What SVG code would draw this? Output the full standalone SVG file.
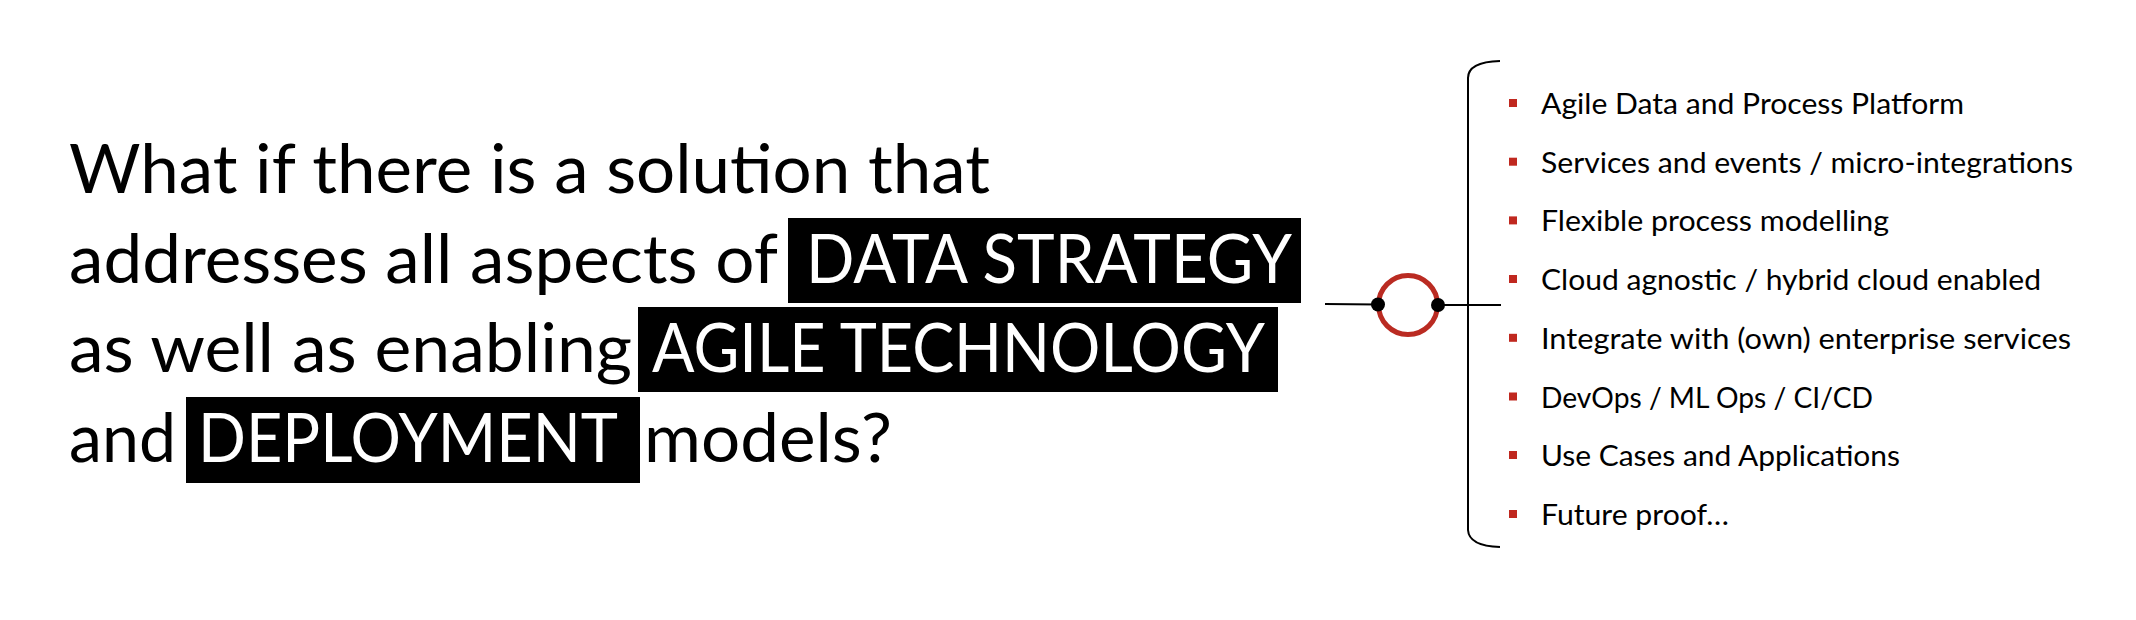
<svg xmlns="http://www.w3.org/2000/svg" width="2136" height="620" viewBox="0 0 2136 620">
<style>
.q{font-family:Lato,"Open Sans","Liberation Sans",sans-serif;font-size:67px;fill:#000}
.qh{font-family:Lato,"Open Sans","Liberation Sans",sans-serif;font-size:67px;fill:#fff}
.hl{fill:#000}
.li{font-family:Lato,"Open Sans","Liberation Sans",sans-serif;font-size:29px;fill:#000}
.bul{fill:#C0281F}
.ln{stroke:#000;stroke-width:2;fill:none}
</style>
<rect width="2136" height="620" fill="#fff"/>
<g id="question">
<rect class="hl" x="788" y="218" width="513" height="85"/>
<rect class="hl" x="638" y="307" width="640" height="85"/>
<rect class="hl" x="186" y="397" width="454" height="86"/>
<text class="q" x="69" y="193" textLength="921" lengthAdjust="spacingAndGlyphs">What if there is a solution that</text>
<text class="q" x="69" y="283" textLength="709" lengthAdjust="spacingAndGlyphs">addresses all aspects of</text>
<text class="qh" x="806" y="283" textLength="486" lengthAdjust="spacingAndGlyphs">DATA STRATEGY</text>
<text class="q" x="69" y="372" textLength="563" lengthAdjust="spacingAndGlyphs">as well as enabling</text>
<text class="qh" x="652" y="372" textLength="613" lengthAdjust="spacingAndGlyphs">AGILE TECHNOLOGY</text>
<text class="q" x="69" y="462" textLength="107" lengthAdjust="spacingAndGlyphs">and</text>
<text class="qh" x="198" y="462" textLength="420" lengthAdjust="spacingAndGlyphs">DEPLOYMENT</text>
<text class="q" x="644" y="462" textLength="248" lengthAdjust="spacingAndGlyphs">models?</text>
</g>
<g id="connectors">
<line class="ln" x1="1325" y1="304" x2="1378" y2="304.5"/>
<line class="ln" x1="1438" y1="305" x2="1501" y2="305"/>
</g>
<g id="interface">
<circle cx="1408" cy="305" r="29.5" fill="none" stroke="#BA2B22" stroke-width="5"/>
<circle cx="1378" cy="304.5" r="7" fill="#000"/>
<circle cx="1438" cy="305" r="7" fill="#000"/>
</g>
<g id="bracket">
<path class="ln" d="M1500,61 Q1468,62 1468,78 L1468,530 Q1469,546 1500,547"/>
</g>
<g id="features">
<rect class="bul" x="1509" y="99" width="8" height="8"/>
<text class="li" x="1541" y="114" textLength="423" lengthAdjust="spacingAndGlyphs">Agile Data and Process Platform</text>
<rect class="bul" x="1509" y="157.7" width="8" height="8"/>
<text class="li" x="1541" y="172.7" textLength="532" lengthAdjust="spacingAndGlyphs">Services and events / micro-integrations</text>
<rect class="bul" x="1509" y="216.4" width="8" height="8"/>
<text class="li" x="1541" y="231.4" textLength="348" lengthAdjust="spacingAndGlyphs">Flexible process modelling</text>
<rect class="bul" x="1509" y="275" width="8" height="8"/>
<text class="li" x="1541" y="290" textLength="500" lengthAdjust="spacingAndGlyphs">Cloud agnostic / hybrid cloud enabled</text>
<rect class="bul" x="1509" y="333.8" width="8" height="8"/>
<text class="li" x="1541" y="348.8" textLength="530" lengthAdjust="spacingAndGlyphs">Integrate with (own) enterprise services</text>
<rect class="bul" x="1509" y="392.5" width="8" height="8"/>
<text class="li" x="1541" y="407.5" textLength="332" lengthAdjust="spacingAndGlyphs">DevOps / ML Ops / CI/CD</text>
<rect class="bul" x="1509" y="451" width="8" height="8"/>
<text class="li" x="1541" y="466" textLength="359" lengthAdjust="spacingAndGlyphs">Use Cases and Applications</text>
<rect class="bul" x="1509" y="510" width="8" height="8"/>
<text class="li" x="1541" y="525" textLength="188" lengthAdjust="spacingAndGlyphs">Future proof…</text>
</g>
</svg>
